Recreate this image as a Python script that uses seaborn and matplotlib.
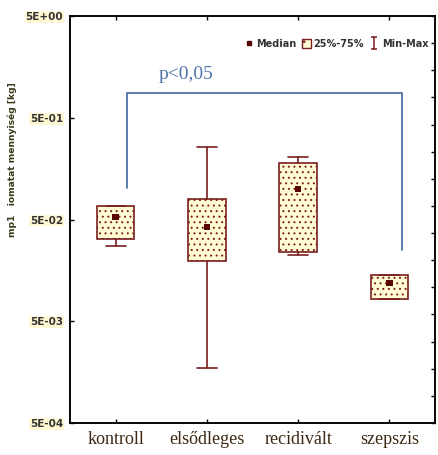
import matplotlib
matplotlib.use("Agg")
import matplotlib.pyplot as plt
import seaborn as sns
import pandas as pd
from matplotlib.patches import Patch
from matplotlib.lines import Line2D
from matplotlib.path import Path
from matplotlib.ticker import NullLocator

# ---- data ----
categories = ["kontroll", "elsődleges", "recidivált", "szepszis"]
medians = [0.0529, 0.0422, 0.0997, 0.0119]
q1 = [0.0322, 0.0196, 0.0240, 0.0083]
q3 = [0.0679, 0.0796, 0.1795, 0.0143]
mins = [0.0275, 0.00174, 0.0224, 0.0083]
maxs = [0.0679, 0.258, 0.2057, 0.0143]
ytick_vals = [5e-4, 5e-3, 5e-2, 5e-1, 5]
ytick_labels = ["5E-04", "5E-03", "5E-02", "5E-01", "5E+00"]
ylabel = "mp1   iomatat mennyiség [kg]"
legend_labels = ["Median", "25%-75%", "Min-Max"]
p_text = "p<0,05"
bracket_x = [0.13, 3.14]
bracket_y = [0.102, 0.875, 0.0251]   # left end, top, right end

# ---- style ----
sns.set_theme(style="ticks")
plt.rcParams.update({
    "axes.edgecolor": "black",
    "axes.linewidth": 1.1,
    "hatch.linewidth": 0.7,
})
narrow = ["Liberation Sans Narrow", "DejaVu Sans"]
edge = "#7a1e1e"
face = "#fffbd2"

fig = plt.figure(figsize=(4.38, 4.55), dpi=100)
ax = fig.add_axes([70 / 438, 1 - 423 / 455, 365 / 438, 407 / 455])

stats = [dict(med=m, q1=a, q3=b, whislo=lo, whishi=hi, fliers=[], label=c)
         for c, m, a, b, lo, hi in zip(categories, medians, q1, q3, mins, maxs)]
ax.bxp(stats, positions=range(len(categories)), widths=0.41, capwidths=0.22,
       patch_artist=True, showfliers=False,
       boxprops=dict(facecolor=face, edgecolor=edge, linewidth=1.2, hatch="..."),
       whiskerprops=dict(color=edge, linewidth=1.2),
       capprops=dict(color=edge, linewidth=1.2),
       medianprops=dict(linewidth=0))

df = pd.DataFrame({"cat": categories, "median": medians})
sns.scatterplot(data=df, x="cat", y="median", marker="s", s=22, color="#5a0505",
                edgecolor="none", ax=ax, zorder=5, legend=False)

ax.set_yscale("log")
ax.set_ylim(5e-4, 5)
ax.set_xlim(-0.5, 3.5)
ax.yaxis.set_minor_locator(NullLocator())
ax.set_yticks(ytick_vals)
ax.set_yticklabels(ytick_labels, fontfamily=narrow, fontweight="bold", fontsize=7.5,
                   color="#333333")
for t in ax.get_yticklabels():
    t.set_bbox(dict(facecolor="#fff8d4", edgecolor="none", pad=0.6))
ax.set_xticks(range(len(categories)))
ax.set_xticklabels(categories, fontfamily=["Liberation Serif", "DejaVu Serif"],
                   fontsize=13, color="#3c2814")
ax.set_xlabel("")
ax.set_ylabel("")
ax.tick_params(axis="x", direction="in", length=3, width=1, top=True, pad=6, color="black")
ax.tick_params(axis="y", direction="in", length=3, width=1, right=False, pad=5, color="black")
for s in ax.spines.values():
    s.set_visible(True)
    s.set_color("black")

# right-side tick scale
twin = ax.twinx()
twin.set_ylim(0, 15)
twin.set_yticks(range(16))
twin.tick_params(axis="y", direction="in", length=3, width=1, labelright=False, color="black")
twin.set_ylabel("")

# significance bracket
bc = "#4f72a8"
ax.plot([bracket_x[0], bracket_x[0], bracket_x[1], bracket_x[1]],
        [bracket_y[0], bracket_y[1], bracket_y[1], bracket_y[2]],
        color=bc, linewidth=1.3, zorder=3)
ax.text(0.77, 1.32, p_text, color=bc, fontsize=14, ha="center", va="center",
        fontfamily=["Liberation Serif", "DejaVu Serif"])

# legend
cap_marker = Path([(-0.5, 1), (0.5, 1), (0, 1), (0, -1), (-0.5, -1), (0.5, -1)],
                  [Path.MOVETO, Path.LINETO, Path.MOVETO, Path.LINETO, Path.MOVETO, Path.LINETO])
handles = [
    Line2D([], [], marker="s", linestyle="none", color="#5a0505", markersize=3.5),
    Patch(facecolor=face, edgecolor=edge, hatch="..", linewidth=1.0),
    Line2D([], [], marker=cap_marker, linestyle="none", color=edge, markersize=9,
           markeredgewidth=1.1, fillstyle="none"),
]
ax.legend(handles, legend_labels, loc="center right", bbox_to_anchor=(1.0, 0.931),
          ncol=3, frameon=False, handlelength=0.9, handleheight=1.0,
          handletextpad=0.3, columnspacing=0.6, borderaxespad=0.3,
          labelcolor="#333333",
          prop=dict(family=narrow, weight="bold", size=7))

fig.text(12 / 438, 1 - 160 / 455, ylabel, rotation=90, ha="center", va="center",
         fontsize=6.6, fontfamily=narrow, fontweight="bold", color="#3a3a1a")

fig.savefig("out.png", dpi=100)
